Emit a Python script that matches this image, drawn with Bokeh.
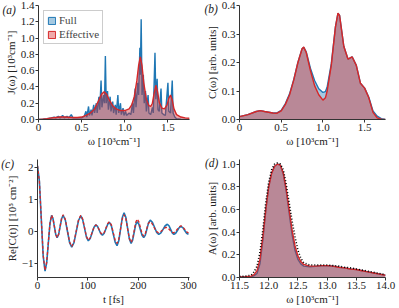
from bokeh.plotting import figure
from bokeh.layouts import column, row
from bokeh.models import Range1d, FixedTicker, Legend, LegendItem, Label
from bokeh.embed import file_html
from bokeh.resources import INLINE

BLUE = "#1f77b4"
RED = "#d62728"
FONT = "Liberation Serif"

# ---------------- (a) spectral density J(w) ----------------
ja_full_w = [0.00, 0.05, 0.10, 0.15, 0.18, 0.20, 0.23, 0.25, 0.28, 0.30, 0.33, 0.35, 0.38, 0.40, 0.45,
             0.50, 0.53, 0.55, 0.56, 0.58, 0.59, 0.61, 0.62, 0.64, 0.65, 0.67, 0.68, 0.70, 0.71, 0.725,
             0.735, 0.755, 0.765, 0.775, 0.785, 0.80, 0.81, 0.83, 0.84, 0.86, 0.87, 0.89, 0.90, 0.92,
             0.93, 0.95, 0.96, 0.98, 0.99, 1.01, 1.02, 1.05, 1.07, 1.09, 1.10, 1.12, 1.13, 1.15, 1.16,
             1.175, 1.18, 1.19, 1.20, 1.215, 1.225, 1.24, 1.25, 1.27, 1.28, 1.30, 1.32, 1.33, 1.35,
             1.36, 1.375, 1.385, 1.40, 1.42, 1.43, 1.45, 1.47, 1.50, 1.51, 1.53, 1.55, 1.56, 1.58,
             1.60, 1.65, 1.75]
ja_full = [0.0, 0.003, 0.01, 0.02, 0.03, 0.02, 0.04, 0.02, 0.05, 0.02, 0.04, 0.02, 0.06, 0.02, 0.02,
           0.02, 0.04, 0.10, 0.03, 0.16, 0.05, 0.12, 0.05, 0.18, 0.08, 0.20, 0.08, 0.28, 0.12, 0.48,
           0.15, 0.30, 0.20, 0.78, 0.20, 0.35, 0.12, 0.28, 0.10, 0.22, 0.08, 0.18, 0.06, 0.30,
           0.08, 0.20, 0.06, 0.14, 0.05, 0.10, 0.05, 0.08, 0.06, 0.20, 0.08, 0.38, 0.15, 0.45, 0.30,
           0.88, 0.55, 1.23, 0.30, 0.55, 0.20, 0.35, 0.10, 0.30, 0.08, 0.06, 0.15, 0.08, 0.82,
           0.25, 0.50, 0.12, 0.10, 0.38, 0.08, 0.06, 0.05, 0.45, 0.10, 0.08, 0.48, 0.08, 0.03,
           0.01, 0.005, 0.0]
ja_eff_w = [0.0, 0.05, 0.1, 0.15, 0.2, 0.25, 0.3, 0.35, 0.4, 0.45, 0.5, 0.55, 0.6, 0.65, 0.7, 0.73,
            0.76, 0.79, 0.82, 0.86, 0.9, 0.95, 1.0, 1.05, 1.08, 1.11, 1.14, 1.16, 1.18, 1.20, 1.22,
            1.25, 1.28, 1.30, 1.32, 1.34, 1.36, 1.38, 1.40, 1.43, 1.46, 1.49, 1.51, 1.53, 1.55,
            1.57, 1.60, 1.65, 1.70, 1.75]
ja_eff = [0.0, 0.005, 0.01, 0.02, 0.025, 0.03, 0.03, 0.028, 0.025, 0.025, 0.03, 0.05, 0.08, 0.13,
          0.24, 0.31, 0.34, 0.31, 0.24, 0.17, 0.13, 0.11, 0.11, 0.13, 0.18, 0.28, 0.48, 0.66, 0.77,
          0.66, 0.45, 0.25, 0.17, 0.16, 0.20, 0.32, 0.42, 0.34, 0.21, 0.14, 0.13, 0.18, 0.26, 0.30,
          0.24, 0.13, 0.06, 0.03, 0.02, 0.015]

# ---------------- (b) C(w) ----------------
cb_w = [0.0, 0.1, 0.2, 0.25, 0.3, 0.4, 0.45, 0.5, 0.55, 0.6, 0.65, 0.7, 0.75, 0.77, 0.8, 0.85, 0.9,
        0.95, 1.0, 1.03, 1.05, 1.1, 1.15, 1.18, 1.2, 1.25, 1.3, 1.35, 1.4, 1.45, 1.5, 1.55, 1.6,
        1.65, 1.7, 1.75]
cb_full = [0.010, 0.017, 0.028, 0.031, 0.028, 0.023, 0.023, 0.032, 0.056, 0.09, 0.14, 0.20, 0.248,
           0.253, 0.237, 0.18, 0.137, 0.108, 0.095, 0.098, 0.113, 0.195, 0.325, 0.372, 0.365,
           0.257, 0.212, 0.22, 0.19, 0.127, 0.11, 0.078, 0.03, 0.012, 0.003, 0.0]
cb_eff = [0.010, 0.017, 0.028, 0.031, 0.028, 0.023, 0.022, 0.030, 0.053, 0.087, 0.138, 0.20, 0.248,
          0.254, 0.235, 0.172, 0.119, 0.087, 0.068, 0.076, 0.099, 0.19, 0.325, 0.373, 0.365,
          0.257, 0.212, 0.22, 0.19, 0.127, 0.11, 0.076, 0.025, 0.006, 0.001, 0.0]

# ---------------- (c) Re C(t) ----------------
ct_full_t = [0, 3.75, 7.5, 11.25, 15, 18.25, 21.5, 24.75, 28, 30.75, 33.5, 36.25, 39, 42, 45, 48,
             51, 55.25, 59.5, 63.75, 68, 72.5, 77, 81.5, 86, 89.75, 93.5, 97.25, 101, 104.75,
             108.5, 112.25, 116, 119.25, 122.5, 125.75, 129, 132.5, 136, 139.5, 143, 146.75, 150.5,
             154.25, 158, 161.5, 165, 168.5, 172, 175.5, 179, 182.5, 186, 189, 192, 195, 198,
             201.25, 204.5, 207.75, 211, 214.25, 217.5, 220.75, 224, 228.25, 232.5, 236.75, 241,
             245.25, 249.5, 253.75, 258, 261.25, 264.5, 267.75, 271, 274.5, 278, 281.5, 285,
             288.75, 292.5, 296.25, 300]
ct_full = [2.05, 1.57, 0.40, -0.77, -1.25, -0.99, -0.375, 0.24, 0.5, 0.40, 0.15, -0.10, -0.2, -0.10,
           0.15, 0.40, 0.5, 0.354, 0.0, -0.354, -0.5, -0.357, -0.01, 0.337, 0.48, 0.366, 0.09,
           -0.186, -0.3, -0.227, -0.05, 0.127, 0.2, 0.153, 0.04, -0.073, -0.12, -0.062, 0.08,
           0.222, 0.28, 0.173, -0.085, -0.343, -0.45, -0.30, 0.065, 0.43, 0.58, 0.44, 0.10,
           -0.24, -0.38, -0.28, -0.04, 0.20, 0.3, 0.227, 0.05, -0.127, -0.2, -0.12, 0.075, 0.27,
           0.35, 0.284, 0.125, -0.034, -0.1, -0.053, 0.06, 0.173, 0.22, 0.173, 0.06, -0.053,
           -0.1, -0.063, 0.025, 0.113, 0.15, 0.113, 0.025, -0.063, -0.1]
ct_eff_t = [0, 3.75, 7.5, 11.25, 15, 18.25, 21.5, 24.75, 28, 30.75, 33.5, 36.25, 39, 42, 45, 48,
            51, 55.25, 59.5, 63.75, 68, 72.5, 77, 81.5, 86, 89.75, 93.5, 97.25, 101, 104.75,
            108.5, 112.25, 116, 119.25, 122.5, 125.75, 129, 132.5, 136, 139.5, 143, 146.75, 150.5,
            154.25, 158, 161.5, 165, 168.5, 172, 175.5, 179, 182.5, 186, 189, 192, 195, 198,
            201.25, 204.5, 207.75, 211, 214, 217, 220, 223, 227.25, 231.5, 235.75, 240, 244, 248,
            252, 256, 259.5, 263, 266.5, 270, 273.75, 277.5, 281.25, 285, 288.75, 292.5, 296.25,
            300]
ct_eff = [2.05, 1.57, 0.415, -0.74, -1.22, -0.97, -0.36, 0.25, 0.5, 0.40, 0.15, -0.10, -0.2, -0.095,
          0.16, 0.415, 0.52, 0.374, 0.02, -0.334, -0.48, -0.337, 0.01, 0.357, 0.5, 0.386, 0.11,
          -0.166, -0.28, -0.21, -0.04, 0.13, 0.2, 0.156, 0.05, -0.056, -0.1, -0.042, 0.1, 0.242,
          0.3, 0.20, -0.04, -0.28, -0.38, -0.249, 0.07, 0.389, 0.52, 0.393, 0.085, -0.223, -0.35,
          -0.243, 0.015, 0.273, 0.38, 0.303, 0.115, -0.073, -0.15, -0.084, 0.075, 0.234, 0.3,
          0.249, 0.125, 0.001, -0.05, -0.025, 0.035, 0.095, 0.12, 0.095, 0.035, -0.025, -0.05,
          -0.018, 0.06, 0.138, 0.17, 0.138, 0.06, -0.018, -0.05]

# ---------------- (d) absorption A(w) ----------------
ad_w = [11.5, 11.6, 11.7, 11.75, 11.8, 11.85, 11.9, 11.95, 12.0, 12.05, 12.1, 12.15, 12.2, 12.25,
        12.3, 12.35, 12.4, 12.45, 12.5, 12.55, 12.6, 12.7, 12.8, 12.9, 13.0, 13.1, 13.2, 13.3,
        13.4, 13.5, 13.6, 13.7, 13.8, 13.9, 14.0]
ad_full = [0.004, 0.005, 0.008, 0.015, 0.035, 0.12, 0.33, 0.59, 0.80, 0.92, 0.98, 1.0, 0.99, 0.91,
           0.76, 0.57, 0.38, 0.24, 0.16, 0.12, 0.10, 0.095, 0.098, 0.103, 0.104, 0.10, 0.09, 0.085,
           0.075, 0.07, 0.06, 0.05, 0.04, 0.03, 0.02]
ad_eff = [0.005, 0.006, 0.012, 0.025, 0.06, 0.16, 0.36, 0.60, 0.80, 0.92, 0.98, 1.0, 0.99, 0.92,
          0.78, 0.60, 0.42, 0.28, 0.19, 0.14, 0.115, 0.10, 0.10, 0.105, 0.105, 0.10, 0.09, 0.085,
          0.075, 0.07, 0.06, 0.05, 0.04, 0.03, 0.02]
ad_exp = [0.01, 0.012, 0.02, 0.05, 0.10, 0.22, 0.42, 0.66, 0.84, 0.95, 1.0, 1.01, 1.0, 0.95, 0.82,
          0.66, 0.50, 0.36, 0.24, 0.17, 0.13, 0.11, 0.11, 0.11, 0.11, 0.105, 0.10, 0.09, 0.085,
          0.075, 0.065, 0.055, 0.045, 0.035, 0.025]


def make_fig(w, h, xr, yr, bl, br, bt, bb, xticks, xlabels, yticks, ylabels, xtitle, ytitle):
    p = figure(width=w, height=h, x_range=Range1d(*xr), y_range=Range1d(*yr),
               output_backend="svg", toolbar_location=None,
               min_border_left=bl, min_border_right=br, min_border_top=bt, min_border_bottom=bb)
    p.grid.visible = False
    p.outline_line_color = None
    p.background_fill_color = "white"
    p.border_fill_color = "white"
    for ax in (p.xaxis[0], p.yaxis[0]):
        ax.axis_line_color = "#333333"
        ax.axis_line_width = 1
        ax.major_tick_line_color = "#333333"
        ax.minor_tick_line_color = None
        ax.major_tick_out = 3
        ax.major_tick_in = 0
        ax.major_label_text_font = FONT
        ax.major_label_text_font_size = "11px"
        ax.major_label_text_color = "#222222"
        ax.major_label_standoff = 1
        ax.axis_label_text_font = FONT
        ax.axis_label_text_font_size = "11px"
        ax.axis_label_text_font_style = "normal"
        ax.axis_label_text_color = "#222222"
        ax.axis_label_standoff = 1
    p.xaxis[0].ticker = FixedTicker(ticks=xticks)
    p.xaxis[0].major_label_overrides = {t: l for t, l in zip(xticks, xlabels)}
    p.yaxis[0].ticker = FixedTicker(ticks=yticks)
    p.yaxis[0].major_label_overrides = {t: l for t, l in zip(yticks, ylabels)}
    p.xaxis[0].axis_label = xtitle
    p.yaxis[0].axis_label = ytitle
    return p


def panel_label(p, text, x, y):
    # held in the right side panel (so it is not clipped to the frame),
    # positioned in data coordinates to the upper left of the frame
    p.add_layout(Label(x=x, y=y, text=text,
                       text_font=FONT, text_font_size="11.5px", text_font_style="italic",
                       text_color="#222222", text_baseline="top", text_align="left"), "right")


WX = "ω [10³cm⁻¹]"

# (a)
pa = make_fig(202, 154, (0, 1.75), (0, 1.4), 38, 0, 5, 35,
              [0, 0.5, 1.0, 1.5], ["0", "0.5", "1.0", "1.5"],
              [0, 0.2, 0.4, 0.6, 0.8, 1.0, 1.2, 1.4],
              ["0.0", "0.2", "0.4", "0.6", "0.8", "1.0", "1.2", "1.4"],
              WX, "J(ω) [10³cm⁻¹]")
pa.varea(x=ja_full_w, y1=0, y2=ja_full, fill_color=BLUE, fill_alpha=0.4)
pa.line(ja_full_w, ja_full, line_color=BLUE, line_width=1.4)
pa.varea(x=ja_eff_w, y1=0, y2=ja_eff, fill_color=RED, fill_alpha=0.4)
pa.line(ja_eff_w, ja_eff, line_color=RED, line_width=1.4)
# legend proxies (placed outside the visible range)
lf = pa.quad(left=[5], right=[6], top=[5], bottom=[4], fill_color=BLUE, fill_alpha=0.4, line_color=BLUE)
le = pa.quad(left=[5], right=[6], top=[5], bottom=[4], fill_color=RED, fill_alpha=0.4, line_color=RED)
leg = Legend(items=[LegendItem(label="Full", renderers=[lf]), LegendItem(label="Effective", renderers=[le])],
             location="top_left", label_text_font=FONT, label_text_font_size="11px",
             glyph_width=9, glyph_height=9, label_standoff=3, spacing=2, padding=3, margin=5,
             label_height=9, border_line_color="#999999", border_line_width=1,
             background_fill_alpha=0.9)
pa.add_layout(leg)
panel_label(pa, "(a)", -0.417, 1.415)

# (b)
pb = make_fig(196, 154, (0, 1.75), (0, 0.4), 33, 0, 5, 32,
              [0, 0.5, 1.0, 1.5], ["0", "0.5", "1.0", "1.5"],
              [0, 0.1, 0.2, 0.3, 0.4], ["0.0", "0.1", "0.2", "0.3", "0.4"],
              WX, "C(ω) [arb. units]")
pb.varea(x=cb_w, y1=0, y2=cb_full, fill_color=BLUE, fill_alpha=0.4)
pb.line(cb_w, cb_full, line_color=BLUE, line_width=1.4)
pb.varea(x=cb_w, y1=0, y2=cb_eff, fill_color=RED, fill_alpha=0.4)
pb.line(cb_w, cb_eff, line_color=RED, line_width=1.4)
panel_label(pb, "(b)", -0.42, 0.410)

# (c)
pc = make_fig(202, 153, (0, 302), (-1.45, 2.25), 37, 0, 5, 29,
              [0, 100, 200, 300], ["0", "100", "200", "300"],
              [-1, 0, 1, 2], ["−1", "0", "1", "2"],
              "t [fs]", "Re[C(t)] [10⁵ cm⁻²]")
pc.line(ct_full_t, ct_full, line_color=BLUE, line_width=1.6)
pc.line(ct_eff_t, ct_eff, line_color=RED, line_width=1.3, line_dash="3 2")
panel_label(pc, "(c)", -72, 2.30)

# (d)
pd = make_fig(196, 153, (11.5, 14.0), (0, 1.04), 34, 0, 4, 29,
              [11.5, 12.0, 12.5, 13.0, 13.5, 14.0], ["11.5", "12.0", "12.5", "13.0", "13.5", "14.0"],
              [0, 0.2, 0.4, 0.6, 0.8, 1.0], ["0.0", "0.2", "0.4", "0.6", "0.8", "1.0"],
              WX, "A(ω) [arb. units]")
pd.varea(x=ad_w, y1=0, y2=ad_full, fill_color=BLUE, fill_alpha=0.4)
pd.line(ad_w, ad_full, line_color=BLUE, line_width=1.4)
pd.varea(x=ad_w, y1=0, y2=ad_eff, fill_color=RED, fill_alpha=0.4)
pd.line(ad_w, ad_eff, line_color=RED, line_width=1.4)
pd.line(ad_w, ad_exp, line_color="black", line_width=1.6, line_dash="1 2")
panel_label(pd, "(d)", 10.91, 1.065)

layout = column(row(pa, pb), row(pc, pd))
open("out.html", "w").write(file_html(layout, INLINE))
